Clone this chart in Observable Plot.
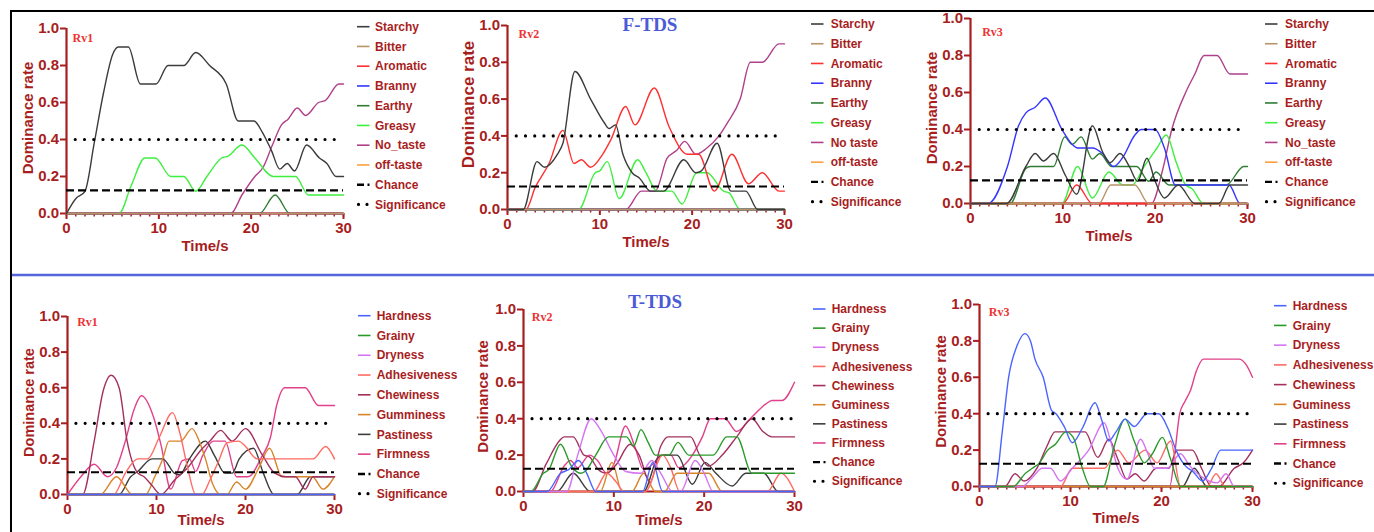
<!DOCTYPE html>
<html><head><meta charset="utf-8">
<script src="https://cdn.jsdelivr.net/npm/d3@7"></script>
<script src="https://cdn.jsdelivr.net/npm/@observablehq/plot@0.6"></script>
<style>
body{margin:0;background:#fff;}
#fig{position:relative;width:1374px;height:532px;overflow:hidden;background:#fff;font-family:"Liberation Sans",Arial,sans-serif;}
</style></head><body><div id="fig"></div>
<script>
// ---------------- DATA ----------------
const CHANCE = 0.125, SIGNIF = 0.4;
const ZERO = [[0,0],[30,0]];
const xTicks = [0,10,20,30];
const yTicks = [0,0.2,0.4,0.6,0.8,1.0];

// F-TDS attributes
const fNames1 = ["Starchy","Bitter","Aromatic","Branny","Earthy","Greasy","No_taste","off-taste"];
const fNames2 = ["Starchy","Bitter","Aromatic","Branny","Earthy","Greasy","No taste","off-taste"];
const fColors = ["#3c3c3c","#b8946a","#ff3030","#3434ff","#2e7d32","#3ef03e","#b0408a","#ffa040"];
// T-TDS attributes
const tNames1 = ["Hardness","Grainy","Dryness","Adhesiveness","Chewiness","Gumminess","Pastiness","Firmness"];
const tNames2 = ["Hardness","Grainy","Dryness","Adhesiveness","Chewiness","Guminess","Pastiness","Firmness"];
const tColors = ["#4a64ff","#2a9a2a","#d474f4","#ff6a62","#a3305e","#d88428","#3c3c3c","#e2408a"];

// F-TDS Rv1
const f1Starchy = [[0,0],[1,0.08],[2,0.12],[3,0.38],[4,0.65],[5,0.86],[5.6,0.9],[6.7,0.9],[8,0.7],[9.7,0.7],[11,0.8],[12.7,0.8],[14,0.87],[15.5,0.8],[17.3,0.7],[18.6,0.5],[20.3,0.5],[21.2,0.44],[22.2,0.34],[23.1,0.24],[23.9,0.27],[24.7,0.23],[26,0.37],[27.4,0.3],[28.2,0.27],[29.2,0.2],[30,0.2]];
const f1Earthy = [[0,0],[20.9,0],[22.6,0.1],[24.2,0],[30,0]];
const f1Greasy = [[0,0],[5.7,0],[7,0.15],[8.5,0.3],[9.6,0.3],[11.3,0.2],[12.7,0.2],[14,0.12],[15.2,0.2],[16.8,0.3],[17.5,0.31],[19,0.37],[20.4,0.3],[22.4,0.2],[24.8,0.2],[26.2,0.1],[30,0.1]];
const f1NoTaste = [[0,0],[17.8,0],[19,0.1],[20.4,0.2],[21.3,0.25],[22.3,0.37],[23.3,0.48],[24,0.51],[25,0.57],[25.9,0.53],[27.3,0.6],[28,0.61],[29.5,0.7],[30,0.7]];

// F-TDS Rv2
const f2Starchy = [[0,0],[1.7,0],[3.2,0.26],[4,0.23],[5.4,0.3],[6,0.36],[7.3,0.75],[9,0.6],[10.5,0.47],[11,0.44],[11.7,0.46],[12.5,0.3],[13.5,0.2],[14.3,0.17],[15.5,0.1],[16.9,0.1],[19.1,0.27],[20.4,0.2],[21,0.21],[22.7,0.36],[24.2,0.1],[25.8,0.1],[27.1,0],[30,0]];
const f2Aromatic = [[0,0],[2,0],[3,0.12],[4.5,0.25],[6,0.43],[7.2,0.25],[8,0.27],[9,0.23],[10.3,0.3],[11.2,0.38],[12.8,0.56],[13.8,0.46],[15.9,0.66],[17.5,0.45],[19.5,0.3],[20.7,0.3],[22.4,0.1],[24.3,0.3],[26.1,0.14],[27.6,0.2],[29.4,0.1],[30,0.1]];
const f2Greasy = [[0,0],[7.7,0],[9.5,0.2],[10,0.21],[10.8,0.26],[12.1,0.06],[14.1,0.27],[15,0.2],[16.2,0.1],[17.8,0.1],[18.9,0.03],[20.5,0.2],[21.6,0.2],[23.4,0.1],[24,0.09],[25.2,0],[30,0]];
const f2NoTaste = [[0,0],[12.8,0],[14.5,0.1],[16,0.1],[17.3,0.28],[18.3,0.32],[19.2,0.37],[20.4,0.3],[21.5,0.33],[22.9,0.4],[23.8,0.47],[25.2,0.6],[26.3,0.8],[27.6,0.8],[29.4,0.9],[30,0.9]];

// F-TDS Rv3
const f3Starchy = [[0,0],[3.9,0],[6,0.2],[7,0.27],[7.9,0.23],[9,0.27],[10.3,0.15],[11.5,0.05],[13.2,0.42],[14.3,0.28],[15.1,0.22],[16.2,0.27],[17.2,0.2],[18.1,0.12],[19.1,0.245],[20,0.12],[21,0.03],[22.5,0.1],[24.3,0],[26.9,0],[28.1,0.1],[30,0.1]];
const f3Bitter = [[0,0],[13.9,0],[15.2,0.1],[17.8,0.1],[19.3,0],[30,0]];
const f3Aromatic = [[0,0],[10,0],[11.5,0.1],[13.2,0],[30,0]];
const f3Branny = [[0,0],[1.9,0],[4,0.2],[5.2,0.42],[6,0.49],[7,0.52],[8.1,0.57],[9.9,0.4],[11,0.32],[11.6,0.3],[13.2,0.3],[14.3,0.27],[15.5,0.2],[16.5,0.25],[17.8,0.37],[18.5,0.4],[20,0.4],[21,0.3],[22.2,0.1],[28,0.1],[29.2,0],[30,0]];
const f3Earthy = [[0,0],[4.3,0],[6,0.19],[6.5,0.2],[9,0.2],[10.2,0.36],[11,0.32],[12,0.36],[13.2,0.24],[14,0.27],[15.3,0.2],[18,0.2],[19.3,0.12],[20.1,0.17],[21.5,0.1],[27.7,0.1],[29.6,0.2],[30,0.2]];
const f3Greasy = [[0,0],[9.9,0],[11.6,0.2],[13.2,0.03],[15,0.17],[16.5,0.1],[17.5,0.1],[18.8,0.2],[20.2,0.3],[21.2,0.37],[22.3,0.22],[23.3,0.1],[24,0.08],[25.2,0],[30,0]];
const f3NoTaste = [[0,0],[19.6,0],[20.8,0.18],[21.8,0.4],[23.3,0.6],[24.3,0.7],[25.3,0.8],[26.7,0.8],[28.1,0.7],[30,0.7]];

// T-TDS Rv1
const t1Adhesive = [[0,0],[5.2,0],[6.5,0.12],[7.9,0.2],[9,0.2],[10.3,0.32],[11.8,0.46],[12.6,0.35],[13.5,0.15],[14.4,0],[15.1,0],[16,0.08],[17,0.19],[17.9,0.29],[19.2,0.3],[20,0.27],[21.3,0.2],[27.6,0.2],[29,0.27],[30,0.2]];
const t1Chewy = [[0,0],[1.7,0],[3,0.3],[4,0.58],[4.9,0.67],[5.8,0.6],[6.7,0.3],[7.9,0.12],[8.6,0.1],[9.5,0.05],[10.5,0],[12,0.08],[13.5,0.15],[15,0.25],[16,0.3],[17.2,0.36],[18.5,0.3],[20,0.37],[21.8,0.23],[23.3,0.12],[24.5,0.1],[25.6,0.1],[26.7,0.03],[27.6,0.1],[30,0.1]];
const t1Gummy = [[0,0],[3.7,0],[5.5,0.1],[7.3,0],[8.8,0],[9.8,0.1],[10.7,0.2],[11.4,0.3],[12.7,0.3],[14,0.37],[14.8,0.3],[15.5,0.2],[16.3,0.06],[17.2,0],[17.9,0],[19,0.07],[20,0.03],[21.5,0.15],[22.7,0.26],[24.1,0.1],[27.5,0.1],[28.7,0.03],[30,0.1]];
const t1Pasty = [[0,0],[5.8,0],[7.1,0.1],[7.9,0.13],[9.5,0.2],[10.7,0.2],[12,0.12],[12.6,0.11],[13.7,0.2],[15.5,0.3],[16.5,0.22],[17.7,0.12],[18.5,0.12],[19.3,0.2],[20.9,0.26],[22,0.12],[23.2,0],[25.8,0],[27.3,0.1],[30,0.1]];
const t1Firm = [[0,0],[1.5,0.1],[3,0.17],[4.5,0.1],[5.5,0.15],[6.5,0.3],[7.5,0.48],[8.3,0.555],[9.7,0.43],[10.5,0.28],[11.6,0.03],[12.9,0.19],[13.7,0.2],[14.4,0.13],[15.2,0.22],[16.4,0.3],[17.7,0.3],[19,0.1],[20.3,0.1],[21.8,0.21],[22.8,0.32],[23.5,0.5],[24.4,0.6],[26.7,0.6],[28.2,0.5],[30,0.5]];

// T-TDS Rv2
const t2Hard = [[0,0],[2.6,0],[4.1,0.1],[5,0.12],[6.1,0.17],[7,0.1],[8,0],[13.2,0],[14.3,0.16],[15.4,0],[30,0]];
const t2Grainy = [[0,0],[0.8,0],[2.2,0.1],[2.8,0.12],[4.1,0.26],[5.3,0.14],[6.3,0.1],[6.8,0.11],[8,0.2],[9.4,0.3],[11.4,0.3],[12.2,0.25],[13,0.34],[13.8,0.27],[14.6,0.2],[16.1,0.2],[17.1,0.27],[18.3,0.2],[21,0.2],[22.5,0.3],[23.6,0.3],[25.3,0.1],[30,0.1]];
const t2Dry = [[0,0],[4.8,0],[6,0.2],[7.5,0.4],[8.5,0.34],[10,0.2],[11.3,0.11],[13,0.1],[14.2,0.17],[15.2,0.1],[16.5,0],[17.4,0],[19,0.17],[20,0.1],[21,0],[30,0]];
const t2Adhesive = [[0,0],[7.8,0],[9.2,0.1],[10.3,0.05],[11.1,0],[13.5,0],[15.4,0.2],[16.3,0.13],[17.3,0],[27,0],[28.5,0.1],[30,0]];
const t2Chewy = [[0,0],[1,0],[2.5,0.15],[4,0.28],[4.5,0.3],[5.5,0.3],[6.7,0.2],[7.3,0.19],[8.3,0.12],[9.2,0.1],[10.3,0.15],[11.8,0.26],[12.8,0.2],[14,0.05],[15.2,0.25],[16,0.3],[18.5,0.3],[19.5,0.2],[20.5,0.14],[22,0.2],[23.6,0.3],[25.3,0.4],[26.5,0.33],[27.5,0.3],[30,0.3]];
const t2Gummy = [[0,0],[8.5,0],[9.8,0.16],[10.9,0],[12,0],[13.3,0.1],[14.6,0],[15.6,0],[17,0.1],[20.5,0.1],[22,0],[30,0]];
const t2Pasty = [[0,0],[3.7,0],[5.5,0.1],[7.4,0],[13.3,0],[14.8,0.18],[15.5,0.2],[17,0.2],[18.7,0.04],[20.1,0.16],[21.3,0.1],[23.1,0.03],[24.6,0.1],[26.6,0.1],[28.2,0],[30,0]];
const t2Firm = [[0,0],[3,0],[4.5,0.14],[5.2,0.17],[6,0.13],[7.3,0.2],[8.2,0.17],[9.2,0.1],[10,0.15],[11.3,0.36],[12.3,0.25],[13.3,0.12],[14.3,0.15],[15.3,0.2],[16.3,0.2],[17.2,0.13],[18.7,0.2],[19.8,0.3],[20.7,0.4],[22.3,0.4],[23.6,0.33],[25.1,0.4],[26.8,0.48],[27.5,0.5],[28.6,0.5],[30,0.6]];

// T-TDS Rv3
const t3Hard = [[0,0],[1.7,0],[2.5,0.3],[3.2,0.6],[4.1,0.77],[5,0.84],[5.6,0.8],[6.1,0.7],[7,0.6],[7.9,0.42],[8.4,0.4],[9.3,0.33],[10.2,0.24],[11.3,0.32],[12.7,0.46],[13.4,0.37],[14.2,0.25],[15,0.3],[16,0.37],[17,0.33],[18.4,0.4],[19.7,0.4],[20.7,0.32],[21.6,0.2],[22.5,0.12],[23.5,0.08],[24.5,0.03],[25.5,0.1],[26.5,0.2],[30,0.2]];
const t3Grainy = [[0,0],[3.7,0],[5,0.07],[5.8,0.1],[6.6,0.13],[7.5,0.2],[8.3,0.23],[9.5,0.3],[10.3,0.27],[11.3,0.1],[12.2,0],[13.6,0],[14.8,0.22],[16,0.37],[17,0.25],[18.1,0.13],[19,0.18],[20.1,0.27],[21,0.15],[22.1,0],[30,0]];
const t3Dry = [[0,0],[4.7,0],[5.8,0.05],[6.9,0.1],[7.8,0.1],[8.9,0.03],[10.2,0.1],[12,0.2],[13.7,0.35],[14.3,0.27],[15.2,0.1],[16.2,0.04],[17.7,0.26],[18.5,0.18],[19.2,0.1],[20.6,0.1],[22.1,0.18],[23,0.12],[24.5,0.05],[26.1,0.02],[27.1,0.07],[28,0],[30,0]];
const t3Adhesive = [[0,0],[8.9,0],[10.2,0.1],[13.7,0.1],[15.2,0.2],[16.4,0.13],[18.2,0.2],[19.5,0.13],[21,0.25],[22.1,0],[25,0],[26,0.07],[27,0],[30,0]];
const t3Chewy = [[0,0],[2.8,0],[3.9,0.07],[4.9,0.03],[6.3,0.1],[7.4,0.22],[8.3,0.3],[11.6,0.3],[13,0.16],[14.2,0.26],[15.2,0.15],[16.2,0.04],[17.1,0.07],[18.1,0.03],[19.4,0.1],[20.8,0.1],[21.7,0.2],[23.4,0.2],[24.4,0.1],[25.5,0],[26.3,0],[28,0.1],[29,0.13],[30,0.2]];
const t3Pasty = [[0,0],[22.3,0],[23.6,0.1],[25,0],[30,0]];
const t3Firm = [[0,0],[20.9,0],[21.5,0.2],[22,0.4],[22.6,0.47],[23.2,0.53],[23.8,0.63],[24.6,0.7],[28.5,0.7],[29.3,0.67],[30,0.6]];

// ---------------- LAYOUT / STYLE ----------------
const AX = "#a81e1e";
const FONT = "'Liberation Sans', Arial, sans-serif";
const fig = document.getElementById("fig");

const panels = [
  {box:{xL:66,xR:343,yT:28,yB:213}, rv:"Rv1", rvd:[6,9.7], names:fNames1, colors:fColors,
   series:[f1Starchy,ZERO,ZERO,ZERO,f1Earthy,f1Greasy,f1NoTaste,ZERO], yl:{dx:-38,dy:-3,size:15}, xlDy:37, minor:true,
   leg:{lx:357,tx:375,y0:26.7,dy:19.75}},
  {box:{xL:507,xR:784,yT:25,yB:209}, rv:"Rv2", rvd:[11,8.3], names:fNames2, colors:fColors,
   series:[f2Starchy,ZERO,f2Aromatic,ZERO,ZERO,f2Greasy,f2NoTaste,ZERO], yl:{dx:-39,dy:-13,size:17}, xlDy:37.5, minor:true,
   leg:{lx:811,tx:830.7,y0:24,dy:19.74}},
  {box:{xL:970,xR:1247,yT:18,yB:203}, rv:"Rv3", rvd:[11.7,13.7], names:fNames1, colors:fColors,
   series:[f3Starchy,f3Bitter,f3Aromatic,f3Branny,f3Earthy,f3Greasy,f3NoTaste,ZERO], yl:{dx:-38,dy:-3,size:15}, xlDy:37, minor:true,
   leg:{lx:1265,tx:1285,y0:24,dy:19.74}},
  {box:{xL:67,xR:334,yT:316,yB:494}, rv:"Rv1", rvd:[9.7,5.7], names:tNames1, colors:tColors,
   series:[ZERO,ZERO,ZERO,t1Adhesive,t1Chewy,t1Gummy,t1Pasty,t1Firm], yl:{dx:-38,dy:-3,size:14.5}, xlDy:30, minor:false,
   leg:{lx:358,tx:376.7,y0:315.7,dy:19.78}},
  {box:{xL:523,xR:794,yT:309,yB:491}, rv:"Rv2", rvd:[8.3,7.7], names:tNames2, colors:tColors,
   series:[t2Hard,t2Grainy,t2Dry,t2Adhesive,t2Chewy,t2Gummy,t2Pasty,t2Firm], yl:{dx:-40.5,dy:-4,size:15}, xlDy:33, minor:false,
   leg:{lx:813,tx:831.7,y0:309,dy:19.14}},
  {box:{xL:979,xR:1252,yT:304,yB:486}, rv:"Rv3", rvd:[9.3,7.7], names:tNames2, colors:tColors,
   series:[t3Hard,t3Grainy,t3Dry,t3Adhesive,t3Chewy,ZERO,t3Pasty,t3Firm], yl:{dx:-38,dy:-4,size:15}, xlDy:36, minor:true,
   leg:{lx:1274,tx:1292.7,y0:305.7,dy:19.73}}
];

function drawPanel(p) {
  const ML = 70, MT = 20, MR = 10, MB = 50;
  const fw = p.box.xR - p.box.xL, fh = p.box.yB - p.box.yT;
  const marks = [
    Plot.ruleX([0], {stroke: AX, strokeWidth: 2.2}),
    Plot.ruleY([0], {stroke: AX, strokeWidth: 2.2}),
    Plot.axisY({ticks: yTicks, tickFormat: d3.format(".1f"), tickSize: 6, tickPadding: 1.5, strokeWidth: 2, fontSize: 15, fontWeight: "bold", label: null}),
    Plot.axisX({ticks: xTicks, tickSize: 6, tickPadding: 3, strokeWidth: 2, fontSize: 15, fontWeight: "bold", label: null})
  ];
  if (p.minor) marks.push(Plot.axisX({ticks: d3.range(0, 31), tickSize: 3.5, strokeWidth: 1.5, tickFormat: () => "", label: null}));
  // first series drawn last (on top)
  for (let i = p.series.length - 1; i >= 0; i--) {
    marks.push(Plot.line(p.series[i], {x: d => d[0], y: d => d[1], stroke: p.colors[i], strokeWidth: 1.4, curve: "monotone-x"}));
  }
  marks.push(Plot.ruleY([CHANCE], {x1: 0, x2: 30, stroke: "#000", strokeWidth: 2.2, strokeDasharray: "8,4"}));
  marks.push(Plot.ruleY([SIGNIF], {x1: 1, x2: 30, stroke: "#000", strokeWidth: 3.2, strokeDasharray: "0,9.25", strokeLinecap: "round"}));
  marks.push(Plot.text([p.rv], {text: d => d, frameAnchor: "top-left", dx: p.rvd[0], dy: p.rvd[1], textAnchor: "start", lineAnchor: "middle", fill: "#ee3232", fontFamily: "'Liberation Serif', 'Times New Roman', serif", fontWeight: "bold", fontSize: 12}));
  marks.push(Plot.text(["Dominance rate"], {text: d => d, frameAnchor: "left", rotate: -90, dx: p.yl.dx, dy: p.yl.dy, textAnchor: "middle", fontSize: p.yl.size, fontWeight: "bold", fill: AX}));
  marks.push(Plot.text(["Time/s"], {text: d => d, frameAnchor: "bottom", dy: p.xlDy, textAnchor: "middle", fontSize: 15, fontWeight: "bold", fill: AX}));

  const svg = Plot.plot({
    width: ML + fw + MR, height: MT + fh + MB,
    marginLeft: ML, marginRight: MR, marginTop: MT, marginBottom: MB,
    x: {domain: [0, 30]}, y: {domain: [0, 1]},
    style: {fontFamily: FONT, color: AX, background: "transparent", overflow: "visible"},
    marks
  });
  svg.style.position = "absolute";
  svg.style.left = (p.box.xL - ML) + "px";
  svg.style.top = (p.box.yT - MT) + "px";
  svg.style.maxWidth = "none";
  fig.appendChild(svg);
}
panels.forEach(drawPanel);

// overlay: frame, separator, titles, legends
const ov = d3.select(fig).append("svg")
  .attr("width", 1374).attr("height", 532)
  .style("position", "absolute").style("left", 0).style("top", 0)
  .style("font-family", FONT);
ov.append("line").attr("x1", 10).attr("x2", 1374).attr("y1", 11).attr("y2", 11).attr("stroke", "#000").attr("stroke-width", 2);
ov.append("line").attr("x1", 11).attr("x2", 11).attr("y1", 10).attr("y2", 532).attr("stroke", "#000").attr("stroke-width", 2);
ov.append("line").attr("x1", 12).attr("x2", 1374).attr("y1", 275).attr("y2", 275).attr("stroke", "#5566dd").attr("stroke-width", 2.5);

const titleStyle = s => s.attr("text-anchor", "middle").attr("fill", "#4b5ad6").attr("font-family", "'Liberation Serif','Times New Roman',serif").attr("font-weight", "bold").attr("font-size", 19);
ov.append("text").attr("x", 650).attr("y", 30.5).text("F-TDS").call(titleStyle);
ov.append("text").attr("x", 655).attr("y", 308).text("T-TDS").call(titleStyle);

panels.forEach(p => {
  const L = p.leg;
  const items = p.names.map((n, i) => ({name: n, color: p.colors[i], type: "line"}))
    .concat([{name: "Chance", type: "chance"}, {name: "Significance", type: "sig"}]);
  items.forEach((it, i) => {
    const y = L.y0 + i * L.dy;
    const ln = ov.append("line").attr("x1", L.lx).attr("x2", L.lx + 12.5).attr("y1", y).attr("y2", y);
    if (it.type === "line") ln.attr("stroke", it.color).attr("stroke-width", 1.6);
    else if (it.type === "chance") ln.attr("stroke", "#000").attr("stroke-width", 2.4).attr("stroke-dasharray", "7,3.5");
    else ln.attr("stroke", "#000").attr("stroke-width", 3.2).attr("stroke-dasharray", "0,8.5").attr("stroke-linecap", "round").attr("x1", L.lx + 1.5).attr("x2", L.lx + 11);
    ov.append("text").attr("x", L.tx).attr("y", y).attr("dy", "0.35em")
      .attr("fill", AX).attr("font-weight", "bold").attr("font-size", 12).text(it.name);
  });
});
</script></body></html>
